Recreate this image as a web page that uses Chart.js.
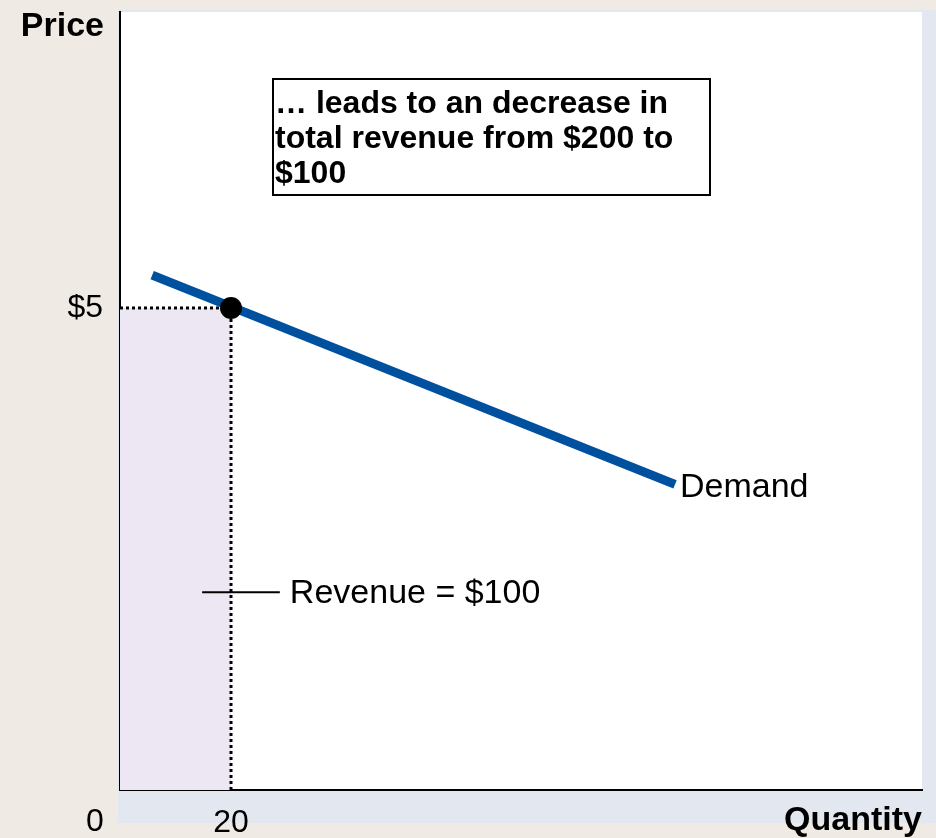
<!DOCTYPE html>
<html>
<head>
<meta charset="utf-8">
<script src="https://cdn.jsdelivr.net/npm/chart.js@4.4.1/dist/chart.umd.min.js"></script>
<style>
  html, body { margin: 0; padding: 0; background: #efebe4; }
  #wrap { width: 936px; height: 838px; }
</style>
</head>
<body>
<div id="wrap"><canvas id="chart"></canvas></div>
<script>
// demand curve end points (quantity, price)
const demandQty = [5.8, 100];
const demandPrice = [5.34, 3.17];

// chosen point on the curve
const pointQty = 20;
const pointPrice = 5;

// tick labels
const xTicks = [20];
const yTicks = [5];

// leader line for the revenue label
const leaderQty = [14.8, 28.8];
const leaderPrice = 2.05;

const boxLines = ['\u2026 leads to an decrease in', 'total revenue from $200 to', '$100'];

const font = "'Liberation Sans', Arial, sans-serif";

const backdrop = {
    id: 'backdrop',
    beforeDraw(chart) {
        const { ctx, chartArea: a } = chart;
        ctx.save();
        ctx.fillStyle = '#efebe4';
        ctx.fillRect(0, 0, chart.width, chart.height);
        ctx.fillStyle = '#e3e7ef';
        ctx.fillRect(a.left - 2, a.top - 2, chart.width - a.left + 2, a.bottom - a.top + 35);
        ctx.fillStyle = '#ffffff';
        ctx.fillRect(a.left, a.top, a.right - a.left, a.bottom - a.top);
        ctx.restore();
    }
};

const labels = {
    id: 'labels',
    afterDraw(chart) {
        const { ctx, scales: { x, y } } = chart;
        ctx.save();
        ctx.fillStyle = '#000';
        ctx.textBaseline = 'middle';

        // axis titles
        ctx.font = 'bold 34px ' + font;
        ctx.textAlign = 'right';
        ctx.fillText('Price', x.left - 16, 27);
        ctx.fillText('Quantity', x.right, 821);

        // origin
        ctx.font = '32px ' + font;
        ctx.textAlign = 'center';
        ctx.fillText('0', x.getPixelForValue(0) - 25, 822);

        // curve label
        ctx.font = '34px ' + font;
        ctx.textAlign = 'left';
        const dx = x.getPixelForValue(demandQty[1]);
        const dy = y.getPixelForValue(demandPrice[1]);
        ctx.fillText('Demand', dx + 5, dy + 3);

        // revenue label
        ctx.fillText('Revenue = $100', x.getPixelForValue(leaderQty[1]) + 10, y.getPixelForValue(leaderPrice) + 1);

        // text box
        const bx = 273, by = 79, bw = 437, bh = 116;
        ctx.fillStyle = '#fff';
        ctx.fillRect(bx, by, bw, bh);
        ctx.strokeStyle = '#000';
        ctx.lineWidth = 2;
        ctx.strokeRect(bx, by, bw, bh);
        ctx.fillStyle = '#000';
        ctx.font = 'bold 32px ' + font;
        ctx.textBaseline = 'alphabetic';
        boxLines.forEach((t, i) => ctx.fillText(t, bx + 2, by + 34 + i * 35));
        ctx.restore();
    }
};

new Chart(document.getElementById('chart'), {
    type: 'scatter',
    data: {
        datasets: [
            {
                // revenue rectangle, top edge dotted
                data: [{ x: 0, y: pointPrice }, { x: pointQty, y: pointPrice }],
                showLine: true,
                fill: 'origin',
                backgroundColor: '#ece7f2',
                borderColor: '#000',
                borderWidth: 3,
                borderDash: [3, 3],
                pointRadius: 0,
                order: 5
            },
            {
                // vertical dotted drop line
                data: [{ x: pointQty, y: 0 }, { x: pointQty, y: pointPrice }],
                showLine: true,
                borderColor: '#000',
                borderWidth: 3,
                borderDash: [3, 3],
                pointRadius: 0,
                order: 4
            },
            {
                data: demandQty.map((q, i) => ({ x: q, y: demandPrice[i] })),
                showLine: true,
                borderColor: '#0050a0',
                borderWidth: 9,
                pointRadius: 0,
                order: 3
            },
            {
                data: [{ x: pointQty, y: pointPrice }],
                pointRadius: 11,
                pointBackgroundColor: '#000',
                pointBorderWidth: 0,
                order: 1
            },
            {
                data: leaderQty.map(q => ({ x: q, y: leaderPrice })),
                showLine: true,
                borderColor: '#000',
                borderWidth: 2,
                pointRadius: 0,
                order: 2
            }
        ]
    },
    options: {
        responsive: true,
        maintainAspectRatio: false,
        animation: false,
        layout: { padding: { top: 12, right: 14, left: 0, bottom: 0 } },
        plugins: {
            legend: { display: false },
            tooltip: { enabled: false }
        },
        scales: {
            x: {
                type: 'linear',
                min: 0,
                max: 144.5,
                grid: { display: false },
                border: { color: '#000', width: 2 },
                afterBuildTicks: s => { s.ticks = xTicks.map(v => ({ value: v })); },
                afterFit: s => { s.height = 48; s.paddingLeft = 0; s.paddingRight = 0; },
                ticks: { color: '#000', padding: 6, font: { family: font, size: 32 } }
            },
            y: {
                type: 'linear',
                min: 0,
                max: 8.07,
                grid: { display: false },
                border: { color: '#000', width: 2 },
                afterBuildTicks: s => { s.ticks = yTicks.map(v => ({ value: v })); },
                afterFit: s => { s.width = 120; s.paddingTop = 0; s.paddingBottom = 0; },
                ticks: { color: '#000', padding: 9, font: { family: font, size: 32 }, callback: v => '$' + v }
            }
        }
    },
    plugins: [backdrop, labels]
});
</script>
</body>
</html>
